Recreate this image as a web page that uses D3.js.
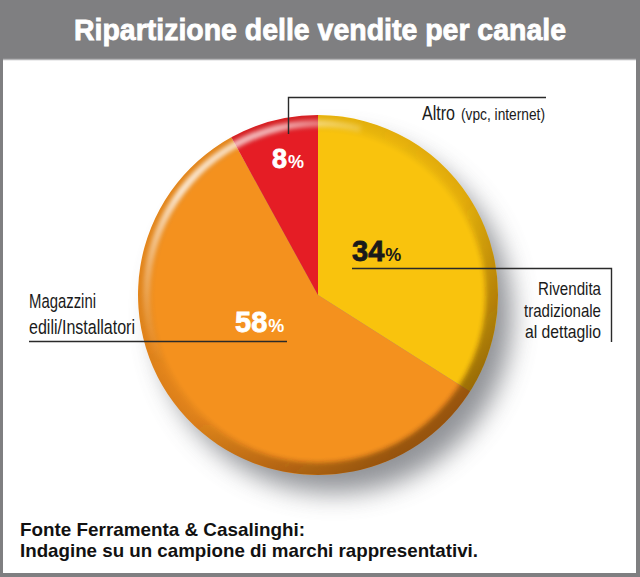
<!DOCTYPE html>
<html>
<head>
<meta charset="utf-8">
<script src="https://cdn.jsdelivr.net/npm/d3@7/dist/d3.min.js"></script>
<style>
  html, body { margin: 0; padding: 0; background: #fff; }
  svg { display: block; }
</style>
</head>
<body>
<script>
// ---- Data ----
const categories = ["Rivendita tradizionale al dettaglio", "Magazzini edili/Installatori", "Altro (vpc, internet)"];
const values = [34, 58, 8];
const valueLabels = ["34", "58", "8"];
const sliceColors = ["#F9C30D", "#F4911E", "#E51D25"];
const labelColors = ["#1a1a1a", "#ffffff", "#ffffff"];
const title = "Ripartizione delle vendite per canale";
const footer = ["Fonte Ferramenta & Casalinghi:", "Indagine su un campione di marchi rappresentativi."];

const W = 640, H = 577;
const cx = 318, cy = 295, R = 180;
const sans = "'Liberation Sans', Arial, Helvetica, sans-serif";

const svg = d3.select("body").append("svg").attr("width", W).attr("height", H);
const defs = svg.append("defs");

// frame
svg.append("rect").attr("x", 0).attr("y", 0).attr("width", W).attr("height", H).attr("fill", "#7f7f81");
svg.append("rect").attr("x", 3).attr("y", 59).attr("width", W - 7).attr("height", H - 63).attr("fill", "#ffffff");
svg.append("line").attr("x1", 3).attr("x2", W - 4).attr("y1", 59.5).attr("y2", 59.5).attr("stroke", "#b5b5b7").attr("stroke-width", 1.5);

svg.append("text").attr("x", W / 2).attr("y", 40).attr("text-anchor", "middle")
  .attr("fill", "#fff").attr("stroke", "#fff").attr("stroke-width", 0.8)
  .attr("font-family", sans).attr("font-weight", "bold").attr("font-size", 29)
  .attr("textLength", 492).attr("lengthAdjust", "spacingAndGlyphs").text(title);

// shadow
const shadowF = defs.append("filter").attr("id", "shadow").attr("x", "-50%").attr("y", "-50%").attr("width", "200%").attr("height", "200%");
shadowF.append("feGaussianBlur").attr("stdDeviation", 13);
svg.append("circle").attr("cx", cx + 16).attr("cy", cy + 20).attr("r", R - 2)
  .attr("fill", "#6c6e74").attr("opacity", 0.75).attr("filter", "url(#shadow)");

// pie
const pie = d3.pie().sort(null).value(d => d);
const arcs = pie(values);
const arc = d3.arc().innerRadius(0).outerRadius(R);
const g = svg.append("g").attr("transform", `translate(${cx},${cy})`);

g.selectAll("path.slice").data(arcs).join("path").attr("class", "slice")
  .attr("d", arc).attr("fill", (d, i) => sliceColors[i]);

// rim shading
defs.append("clipPath").attr("id", "pieClip").append("circle").attr("r", R);
const rimDark = defs.append("radialGradient").attr("id", "rimDark").attr("gradientUnits", "userSpaceOnUse")
  .attr("cx", 0).attr("cy", 0).attr("r", R);
rimDark.append("stop").attr("offset", "0.90").attr("stop-color", "#000").attr("stop-opacity", 0);
rimDark.append("stop").attr("offset", "1").attr("stop-color", "#5a2a00").attr("stop-opacity", 0.12);

const darkLin = defs.append("linearGradient").attr("id", "rimShade").attr("gradientUnits", "userSpaceOnUse")
  .attr("x1", -R * 0.5).attr("y1", -R * 0.6).attr("x2", R * 0.6).attr("y2", R * 0.75);
darkLin.append("stop").attr("offset", "0").attr("stop-color", "#5a2a00").attr("stop-opacity", 0);
darkLin.append("stop").attr("offset", "0.5").attr("stop-color", "#5a2a00").attr("stop-opacity", 0.05);
darkLin.append("stop").attr("offset", "1").attr("stop-color", "#4a2000").attr("stop-opacity", 0.5);

const hiLin = defs.append("linearGradient").attr("id", "rimHi").attr("gradientUnits", "userSpaceOnUse")
  .attr("x1", -R).attr("y1", R * 0.25).attr("x2", R * 0.35).attr("y2", -R);
hiLin.append("stop").attr("offset", "0").attr("stop-color", "#fff").attr("stop-opacity", 0);
hiLin.append("stop").attr("offset", "0.4").attr("stop-color", "#fff").attr("stop-opacity", 0.8);
hiLin.append("stop").attr("offset", "0.75").attr("stop-color", "#fff").attr("stop-opacity", 0.65);
hiLin.append("stop").attr("offset", "1").attr("stop-color", "#fff").attr("stop-opacity", 0);

const blurF = defs.append("filter").attr("id", "soft").attr("x", "-20%").attr("y", "-20%").attr("width", "140%").attr("height", "140%");
blurF.append("feGaussianBlur").attr("stdDeviation", 2.2);

const shade = g.append("g").attr("clip-path", "url(#pieClip)");
shade.append("circle").attr("r", R).attr("fill", "url(#rimDark)");
const ring = d3.arc().innerRadius(R - 12).outerRadius(R + 8).startAngle(0).endAngle(2 * Math.PI);
shade.append("path").attr("d", ring()).attr("fill", "url(#rimShade)").attr("filter", "url(#soft)");
const hiArc = d3.arc().innerRadius(R - 12).outerRadius(R - 5).startAngle(-Math.PI * 0.62).endAngle(Math.PI * 0.08);
shade.append("path").attr("d", hiArc()).attr("fill", "url(#rimHi)").attr("filter", "url(#soft)");

// value labels
const labelPos = [[352, 261], [235, 332], [272, 168]];
const labelSize = [29, 29, 27];
arcs.forEach((a, i) => {
  const t = svg.append("text").attr("x", labelPos[i][0]).attr("y", labelPos[i][1])
    .attr("font-family", sans).attr("font-weight", "bold").attr("fill", labelColors[i]);
  t.append("tspan").attr("font-size", labelSize[i]).attr("stroke", labelColors[i]).attr("stroke-width", 0.8).text(valueLabels[i]);
  t.append("tspan").attr("font-size", 18).attr("dx", 1).text("%");
});

// leader lines
const line = d3.line();
const leaders = [
  [[352, 268.5], [611.5, 268.5], [611.5, 342]],
  [[29, 341.5], [287, 341.5]],
  [[288.5, 134], [288.5, 97.5], [546, 97.5]]
];
svg.selectAll("path.leader").data(leaders).join("path").attr("class", "leader")
  .attr("d", d => line(d)).attr("fill", "none").attr("stroke", "#2a2a2a").attr("stroke-width", 1.4);

// category labels (condensed by squeezing to measured widths)
const txt = (x, y, s, size, len) => svg.append("text").attr("x", x).attr("y", y)
  .attr("font-family", sans).attr("font-size", size).attr("fill", "#1a1a1a")
  .attr("textLength", len).attr("lengthAdjust", "spacingAndGlyphs").text(s);

const rightLabel = [["Rivendita", 63, 295], ["tradizionale", 77, 317], ["al dettaglio", 76, 338]];
rightLabel.forEach(([s, w, y]) => txt(601 - w, y, s, 18.5, w));
[["Magazzini", 67, 308], ["edili/Installatori", 106, 334]].forEach(([s, w, y]) => txt(29, y, s, 20.5, w));

txt(422, 120, "Altro", 20.5, 33);
txt(461, 120, "(vpc, internet)", 16, 84);

// footer
footer.forEach((s, i) => svg.append("text").attr("x", 20).attr("y", 536 + i * 21)
  .attr("font-family", sans).attr("font-weight", "bold").attr("font-size", 19).attr("fill", "#111")
  .attr("textLength", i === 0 ? 285 : 458).attr("lengthAdjust", "spacingAndGlyphs").text(s));
</script>
</body>
</html>
